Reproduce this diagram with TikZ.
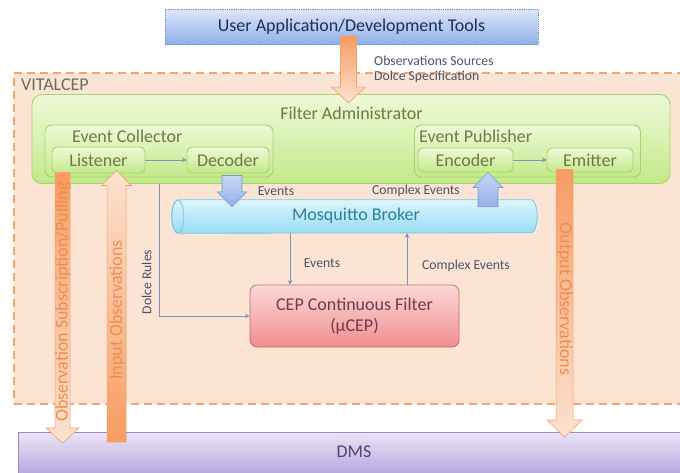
\documentclass[tikz,border=0pt]{standalone}
\usepackage{fontspec}
\setmainfont{Carlito}
\usetikzlibrary{calc,arrows.meta}
\definecolor{userTop}{HTML}{DCE6F8}
\definecolor{userBot}{HTML}{8FB0EA}
\definecolor{userDraw}{HTML}{6F8FCF}
\definecolor{userText}{HTML}{1F2D5A}
\definecolor{vitalFill}{HTML}{FCE4D4}
\definecolor{vitalDraw}{HTML}{F4A46C}
\definecolor{vitalText}{HTML}{6B6E55}
\definecolor{greenTop}{HTML}{EEF9D8}
\definecolor{greenBot}{HTML}{C3E98A}
\definecolor{greenDraw}{HTML}{A6D66A}
\definecolor{greenText}{HTML}{6A7A48}
\definecolor{brokerTop}{HTML}{DDF5FD}
\definecolor{brokerBot}{HTML}{97DCF2}
\definecolor{brokerDraw}{HTML}{78C8E2}
\definecolor{brokerText}{HTML}{2F7F98}
\definecolor{cepTop}{HTML}{FCD9D9}
\definecolor{cepBot}{HTML}{F08E8E}
\definecolor{cepDraw}{HTML}{C96A6A}
\definecolor{cepText}{HTML}{6E3B4A}
\definecolor{dmsTop}{HTML}{EAE4F6}
\definecolor{dmsBot}{HTML}{B09FDA}
\definecolor{dmsDraw}{HTML}{9B89C9}
\definecolor{dmsText}{HTML}{50476E}
\definecolor{orDark}{HTML}{F79C62}
\definecolor{orLight}{HTML}{FCE2CF}
\definecolor{orDraw}{HTML}{F3A26C}
\definecolor{orText}{HTML}{EE8D52}
\definecolor{blTop}{HTML}{C7D7F6}
\definecolor{blBot}{HTML}{93AFE8}
\definecolor{blDraw}{HTML}{7D99D4}
\definecolor{thinLine}{HTML}{7D92B5}
\definecolor{lblText}{HTML}{4B5468}
% fat vertical arrow: #1 from, #2 to, #3 half shaft, #4 half head, #5 head length, #6 style
\newcommand{\fatarrow}[6]{%
  \path[#6] let \p1=(#1), \p2=(#2), \n1={sign(\y2-\y1)} in
    (\x1-#3,\y1) -- (\x1-#3,\y2-\n1*#5) -- (\x1-#4,\y2-\n1*#5) -- (\x1,\y2)
    -- (\x1+#4,\y2-\n1*#5) -- (\x1+#3,\y2-\n1*#5) -- (\x1+#3,\y1) -- cycle;}
\tikzset{
  bigfont/.style={font=\fontsize{18}{21}\selectfont},
  greenbox/.style={draw=greenDraw, line width=0.9pt, top color=greenTop, bottom color=greenBot,
    rounded corners=5pt, inner sep=0pt, text=greenText, bigfont},
  lbl/.style={text=lblText, font=\fontsize{13.7}{15}\selectfont, inner sep=0pt},
  thinarrow/.style={draw=thinLine, line width=0.8pt, -{Stealth[length=4.5pt,width=4.5pt]}},
  orangedown/.style={draw=orDraw, line width=0.6pt, top color=orDark, bottom color=orLight},
  orangeup/.style={draw=orDraw, line width=0.6pt, top color=orLight, bottom color=orDark},
  bluearrow/.style={draw=blDraw, line width=0.6pt, top color=blTop, bottom color=blBot},
  arrowtext/.style={text=orText, bigfont, inner sep=0pt},
}
\begin{document}
\begin{tikzpicture}[x=1pt,y=-1pt]
\useasboundingbox (0,0) rectangle (680,472);
\clip (0,0) rectangle (680,472);
\fill[white] (0,0) rectangle (680,472);

% VITALCEP container
\node[draw=vitalDraw, fill=vitalFill, line width=1.8pt, dash pattern=on 8pt off 5pt,
      minimum width=677pt, minimum height=331pt, inner sep=0pt, anchor=north west] (vital) at (13,72) {};
\node[text=vitalText, bigfont, anchor=west, inner sep=0pt] (vitallbl) at (21,85) {VITALCEP};

% user application
\node[draw=userDraw, densely dotted, line width=0.8pt, top color=userTop, bottom color=userBot,
      minimum width=373pt, minimum height=35pt, inner sep=0pt, text=userText,
      bigfont] (userapp) at (351.5,27) {User Application/Development Tools};

% filter administrator
\node[greenbox, rounded corners=10pt, minimum width=638pt, minimum height=89pt] (filteradmin) at (351,139) {};
\node[text=greenText, bigfont, inner sep=0pt] (falbl) at (351.5,113) {Filter Administrator};

\node[greenbox, rounded corners=7pt, minimum width=228pt, minimum height=52pt] (collector) at (159,151) {};
\node[text=greenText, bigfont, inner sep=0pt, anchor=west] (collbl) at (72,136) {Event Collector};
\node[greenbox, rounded corners=7pt, minimum width=226pt, minimum height=52pt] (publisher) at (527.5,151) {};
\node[text=greenText, bigfont, inner sep=0pt, anchor=west] (publbl) at (419,136) {Event Publisher};

\node[greenbox, minimum width=93pt, minimum height=26pt] (listener) at (98.5,160) {Listener};
\node[greenbox, minimum width=82pt, minimum height=26pt] (decoder) at (228,160) {Decoder};
\node[greenbox, minimum width=95pt, minimum height=24pt] (encoder) at (465.5,160) {Encoder};
\node[greenbox, minimum width=86pt, minimum height=24pt] (emitter) at (590,160) {Emitter};

\draw[thinarrow] (listener) -- (decoder);
\draw[thinarrow] (encoder) -- (emitter);

% broker (horizontal cylinder)
\node[minimum width=365pt, minimum height=33pt, inner sep=0pt] (broker) at (354.5,216.5) {};
\path[draw=brokerDraw, line width=0.8pt, top color=brokerTop, bottom color=brokerBot]
  ($(broker.north west)+(6,0)$) -- ($(broker.north east)+(-6,0)$)
  arc[start angle=-90, end angle=90, x radius=6, y radius=16.5]
  -- ($(broker.south west)+(6,0)$)
  arc[start angle=90, end angle=270, x radius=6, y radius=16.5] -- cycle;
\draw[draw=brokerDraw, line width=0.8pt] ($(broker.west)+(6,0)$) ellipse [x radius=6, y radius=16.5];
\node[text=brokerText, bigfont, inner sep=0pt] (brokerlbl) at (356,216) {Mosquitto Broker};

% CEP
\node[draw=cepDraw, line width=0.8pt, top color=cepTop, bottom color=cepBot, rounded corners=7pt,
      minimum width=209pt, minimum height=62pt, inner sep=0pt, text=cepText, align=center,
      font=\fontsize{18}{21}\selectfont] (cep) at (354.5,316) {CEP Continuous Filter\\(µCEP)};

% DMS
\node[draw=dmsDraw, line width=0.8pt, top color=dmsTop, bottom color=dmsBot,
      minimum width=680pt, minimum height=48pt, inner sep=0pt, anchor=north west] (dms) at (18,432) {};
\node[text=dmsText, bigfont, inner sep=0pt] (dmslbl) at (354,452) {DMS};

% thin connectors
\coordinate (drA) at ($(filteradmin.south west)+(128,0)$);
\draw[thinarrow] (drA) |- (cep.west);
\node[lbl, rotate=90] (dolcelbl) at ($(drA |- cep.west)+(-13,-34)$) {Dolce Rules};

\coordinate (evTop) at ($(broker.south)+(-64.5,0)$);
\draw[thinarrow] (evTop) -- (evTop |- cep.north);
\node[lbl] (evlbl) at (322,263) {Events};
\coordinate (ceBot) at ($(cep.north)+(52.5,0)$);
\draw[thinarrow] (ceBot) -- (ceBot |- broker.south);
\node[lbl] (celbl) at (466,266) {Complex Events};

% top labels
\node[lbl, anchor=west] (obsSrc) at (374,61) {Observations Sources};
\node[lbl, anchor=west] (dolceSpec) at (374,77) {Dolce Specification};
\node[lbl] (evlbl2) at (276,191) {Events};
\node[lbl] (celbl2) at (416,191) {Complex Events};

% fat arrows
\coordinate (uaA) at ($(userapp.south)+(-3,-9)$);
\coordinate (uaB) at ($(uaA |- filteradmin.north)+(0,9)$);
\fatarrow{uaA}{uaB}{8pt}{17pt}{16pt}{orangedown}

\coordinate (evA) at ($(collector.south -| decoder.south)+(4,-2)$);
\coordinate (evB) at ($(evA |- broker.north)+(0,7)$);
\fatarrow{evA}{evB}{10pt}{15pt}{15pt}{bluearrow}

\coordinate (ceB) at ($(encoder.south)+(22.5,0)$);
\coordinate (ceA) at ($(ceB |- broker.north)+(0,7)$);
\fatarrow{ceA}{ceB}{10pt}{15pt}{15pt}{bluearrow}

\coordinate (osA) at ($(listener.south west)+(11,-1)$);
\coordinate (osB) at ($(osA |- dms.north)+(0,11)$);
\fatarrow{osA}{osB}{7.5pt}{16.5pt}{15pt}{orangedown}
\node[arrowtext, rotate=90] (oslbl) at (63,302) {Observation Subscription/Pulling};

\coordinate (inA) at ($(listener.south west)+(65,-3)$);
\coordinate (inB) at ($(inA |- dms.north)+(0,10)$);
\fatarrow{inB}{inA}{9.5pt}{15pt}{15pt}{orangeup}
\node[arrowtext, rotate=90] (inlbl) at (117,310) {Input Observations};

\coordinate (outA) at ($(emitter.south west)+(18,-3)$);
\coordinate (outB) at ($(outA |- dms.north)+(0,5)$);
\fatarrow{outA}{outB}{8.5pt}{17.5pt}{17pt}{orangedown}
\node[arrowtext, rotate=-90] (outlbl) at (565,299) {Output Observations};
\end{tikzpicture}
\end{document}
